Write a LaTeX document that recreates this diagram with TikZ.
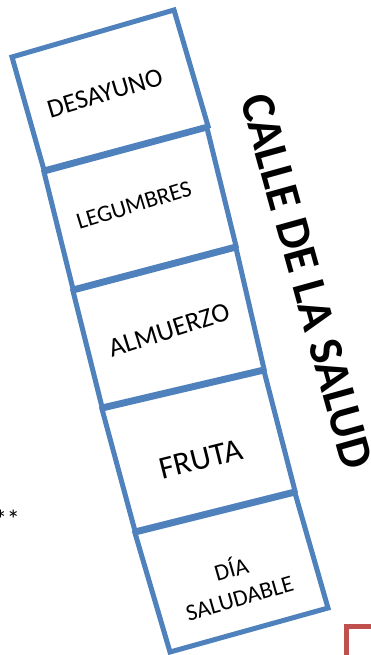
\documentclass[tikz,border=0pt]{standalone}
\usepackage{fontspec}
\setmainfont{Carlito}
\definecolor{boxblue}{HTML}{4F81BD}
\definecolor{cornerred}{HTML}{C0504D}
\tikzset{
  boxline/.style={draw=boxblue, line width=5pt, line join=miter},
  lbl/.style={inner sep=0pt, align=center, text=black},
}
\begin{document}
\begin{tikzpicture}[x=1pt,y=-1pt]
\useasboundingbox (0,0) rectangle (371,655);
% box corners
\coordinate (a1) at (12,57);   \coordinate (b1) at (174,10);  \coordinate (c1) at (208,126); \coordinate (d1) at (44,170);
\coordinate (a2) at (44,172);  \coordinate (b2) at (207,128); \coordinate (c2) at (236,246); \coordinate (d2) at (73,289);
\coordinate (a3) at (73,291);  \coordinate (b3) at (236,248); \coordinate (c3) at (264,369); \coordinate (d3) at (102,407);
\coordinate (a4) at (102,409); \coordinate (b4) at (264,371); \coordinate (c4) at (295,491); \coordinate (d4) at (135,531);
\coordinate (a5) at (135,533); \coordinate (b5) at (295,493); \coordinate (c5) at (328,608); \coordinate (d5) at (170,652);
\foreach \i in {1,...,5} {
  \draw[boxline] (a\i) -- (b\i) -- (c\i) -- (d\i) -- cycle;
}
% labels
\node[lbl, rotate=16.5, font=\fontsize{26.5}{30}\selectfont] (desayuno) at (105,93) {DESAYUNO};
\node[lbl, rotate=17, font=\fontsize{23.5}{27}\selectfont] (legumbres) at (134,205) {LEGUMBRES};
\node[lbl, rotate=17.5, font=\fontsize{27}{30}\selectfont] (almuerzo) at (169,330) {ALMUERZO};
\node[lbl, rotate=14, font=\fontsize{32}{36}\selectfont] (fruta) at (201,459) {FRUTA};
\node[lbl, rotate=16, font=\fontsize{23.5}{30}\selectfont] (dia) at (235,582) {DÍA\\SALUDABLE};
\node[lbl, rotate=-74.5, font=\fontsize{48}{52}\selectfont\bfseries] (calle) at (307,281) {CALLE DE LA SALUD};
\node[lbl, font=\fontsize{26}{30}\selectfont] (stars) at (7,519) {**};
% red corner
\coordinate (r1) at (346,660);
\coordinate (r2) at (346,626);
\coordinate (r3) at (376,626);
\draw[draw=cornerred, line width=5pt, line join=miter] (r1) -- (r2) -- (r3);
\end{tikzpicture}
\end{document}
